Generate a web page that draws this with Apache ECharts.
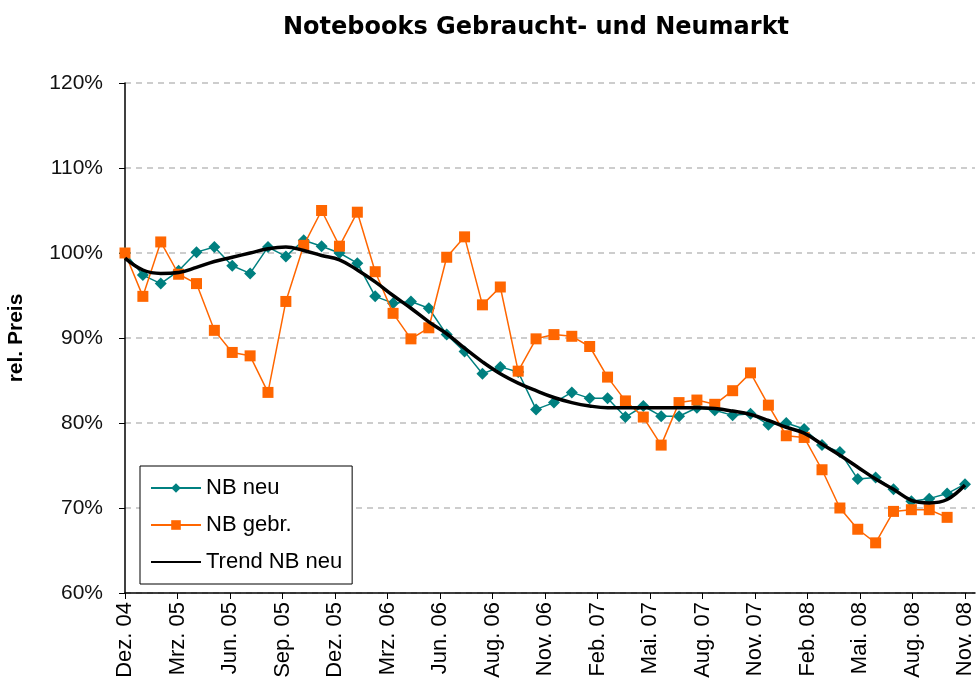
<!DOCTYPE html>
<html>
<head>
<meta charset="utf-8">
<script src="https://cdn.jsdelivr.net/npm/echarts@6/dist/echarts.min.js"></script>
<style>
  html, body { margin: 0; padding: 0; background: #fff; }
  #chart { width: 977px; height: 695px; }
</style>
</head>
<body>
<div id="chart"></div>
<script>
// monthly points Dez. 04 .. Nov. 08 (48 months), values in percent
const tickLabels = ["Dez. 04", "Mrz. 05", "Jun. 05", "Sep. 05", "Dez. 05", "Mrz. 06", "Jun. 06", "Aug. 06",
  "Nov. 06", "Feb. 07", "Mai. 07", "Aug. 07", "Nov. 07", "Feb. 08", "Mai. 08", "Aug. 08", "Nov. 08"];

const nbNeu = [100, 97.4, 96.4, 97.9, 100.1, 100.7, 98.5, 97.6, 100.7, 99.6, 101.5, 100.8,
  100.0, 98.8, 94.9, 94.1, 94.3, 93.5, 90.4, 88.4, 85.8, 86.6, 86.0, 81.6,
  82.4, 83.6, 82.9, 82.9, 80.7, 82.0, 80.8, 80.8, 81.8, 81.5, 80.9, 81.1,
  79.8, 80.0, 79.3, 77.4, 76.6, 73.4, 73.6, 72.2, 70.8, 71.1, 71.7, 72.8];

const nbGebr = [100, 94.9, 101.3, 97.5, 96.4, 90.9, 88.3, 87.9, 83.6, 94.3, 100.9, 105.0,
  100.8, 104.8, 97.8, 92.9, 89.9, 91.2, 99.5, 101.9, 93.9, 96.0, 86.1, 89.9,
  90.4, 90.2, 89.0, 85.4, 82.6, 80.7, 77.4, 82.4, 82.7, 82.2, 83.8, 85.9,
  82.1, 78.5, 78.3, 74.5, 70.0, 67.5, 65.9, 69.6, 69.8, 69.8, 68.9, null];

const trendNeu = [99.4, 98.0, 97.6, 97.7, 98.3, 99.0, 99.5, 100.0, 100.5, 100.7, 100.3, 99.7,
  99.2, 98.0, 96.6, 95.0, 93.5, 91.9, 90.5, 88.8, 87.2, 85.8, 84.7, 83.8,
  83.0, 82.4, 82.0, 81.8, 81.8, 81.8, 81.8, 81.8, 81.8, 81.7, 81.4, 81.0,
  80.3, 79.5, 78.8, 77.5, 76.2, 74.8, 73.4, 72.2, 70.9, 70.6, 71.0, 72.7];

const lastIdx = nbNeu.length - 1;
const step = lastIdx / (tickLabels.length - 1);
const tickValues = tickLabels.map(function (_, k) { return k * step; });

function toPoints(arr) {
  const out = [];
  arr.forEach(function (v, i) {
    if (v !== null) out.push([i, v]);
  });
  return out;
}

const myChart = echarts.init(document.getElementById("chart"));

const option = {
  animation: false,
  backgroundColor: "#fff",
  title: {
    text: "Notebooks Gebraucht- und Neumarkt",
    left: 278,
    top: 11,
    textStyle: {
      fontFamily: "DejaVu Sans",
      fontSize: 24,
      fontWeight: "bold",
      color: "#000",
    },
  },
  legend: {
    orient: "vertical",
    left: 140,
    top: 466,
    padding: [11, 10, 11, 10],
    itemGap: 15,
    itemWidth: 50,
    itemHeight: 12,
    borderColor: "#000",
    borderWidth: 1,
    backgroundColor: "#fff",
    textStyle: {
      fontFamily: "Liberation Sans",
      fontSize: 22,
      color: "#000",
    },
    data: [
      { name: "NB neu" },
      { name: "NB gebr." },
      { name: "Trend NB neu", itemStyle: { opacity: 0 } },
    ],
  },
  grid: {
    left: 125,
    right: 2,
    top: 83,
    bottom: 102,
    outerBoundsMode: "none",
  },
  xAxis: {
    type: "value",
    min: 0,
    max: lastIdx + 0.56,
    axisLine: { lineStyle: { color: "#000", width: 1.5 } },
    axisTick: {
      show: true,
      length: 6,
      customValues: tickValues,
      lineStyle: { color: "#000" },
    },
    splitLine: { show: false },
    axisLabel: {
      rotate: 90,
      margin: 9,
      customValues: tickValues,
      fontFamily: "Liberation Sans",
      fontSize: 22,
      color: "#000",
      formatter: function (v) {
        return tickLabels[Math.round(v / step)];
      },
    },
  },
  yAxis: {
    type: "value",
    min: 60,
    max: 120,
    interval: 10,
    name: "rel. Preis",
    nameLocation: "middle",
    nameRotate: 90,
    nameGap: 98,
    nameTextStyle: {
      fontFamily: "Liberation Sans",
      fontSize: 21,
      fontWeight: "bold",
      color: "#000",
    },
    axisLine: { show: true, lineStyle: { color: "#000", width: 1.5 } },
    axisTick: { show: true, length: 6, lineStyle: { color: "#000" } },
    axisLabel: {
      margin: 22,
      fontFamily: "Liberation Sans",
      fontSize: 21,
      color: "#111",
      formatter: "{value}%",
    },
    splitLine: {
      show: true,
      lineStyle: { color: "#bdbdbd", type: [6, 5], width: 1.5 },
    },
  },
  series: [
    {
      name: "NB neu",
      type: "line",
      data: toPoints(nbNeu),
      symbol: "diamond",
      symbolSize: 12,
      itemStyle: { color: "#008080" },
      lineStyle: { color: "#008080", width: 1.5 },
      z: 2,
    },
    {
      name: "NB gebr.",
      type: "line",
      data: toPoints(nbGebr),
      symbol: "rect",
      symbolSize: 11,
      itemStyle: { color: "#ff6600" },
      lineStyle: { color: "#ff6600", width: 1.5 },
      z: 3,
    },
    {
      name: "Trend NB neu",
      type: "line",
      data: toPoints(trendNeu),
      smooth: 0.4,
      showSymbol: false,
      symbol: "none",
      itemStyle: { color: "#000" },
      lineStyle: { color: "#000", width: 3.5 },
      z: 4,
    },
  ],
};

myChart.setOption(option);
</script>
</body>
</html>
